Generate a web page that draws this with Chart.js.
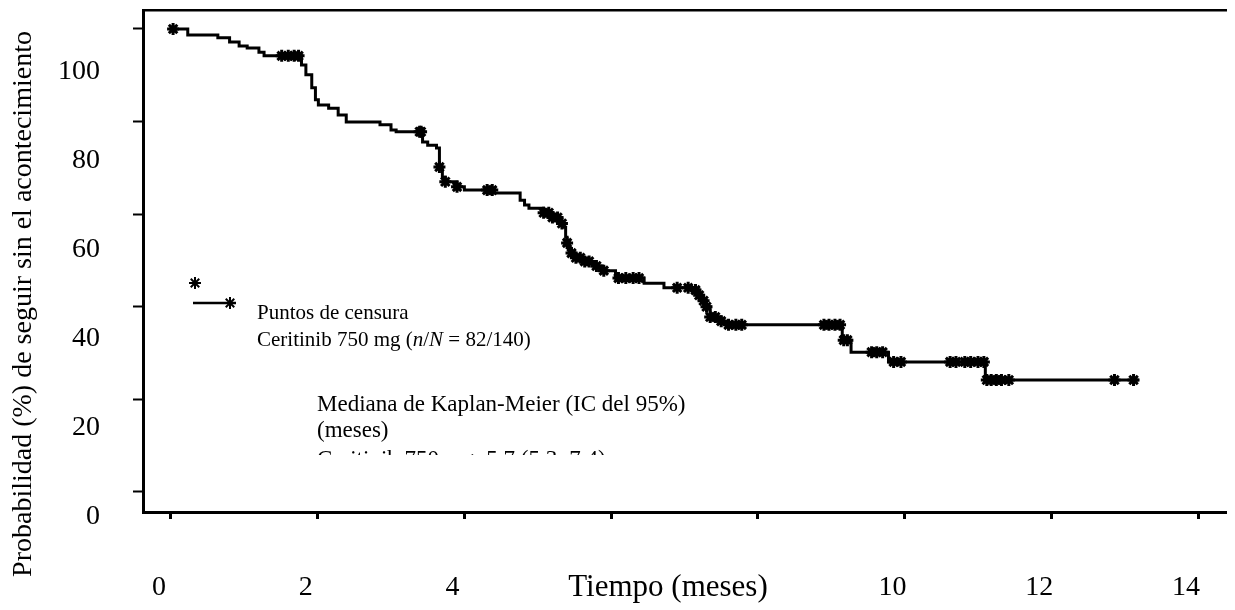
<!DOCTYPE html>
<html>
<head>
<meta charset="utf-8">
<title>Kaplan-Meier</title>
<script src="https://cdn.jsdelivr.net/npm/chart.js@4.4.1/dist/chart.umd.min.js"></script>
<style>
  html, body { margin: 0; padding: 0; background: #fff; }
  #wrap { width: 1235px; height: 610px; }
</style>
</head>
<body>
<div id="wrap"><canvas id="grafico" width="1235" height="610"></canvas></div>
<script>
// tiempos (meses) en que cambia la curva y probabilidad (%) desde ese momento
const tiemposKM = [0, 0.23, 0.64, 0.80, 0.93, 1.04, 1.20, 1.27, 1.78, 1.84, 1.92, 1.97, 2.01, 2.15, 2.28, 2.39,
    2.85, 3.00, 3.07, 3.43, 3.50, 3.62, 3.66, 3.70, 3.74, 3.90, 4.00, 4.40, 4.76, 4.82, 4.88, 5.08, 5.20, 5.30,
    5.36, 5.38, 5.40, 5.43, 5.50, 5.62, 5.75, 5.88, 6.06, 6.45, 6.72, 7.15, 7.20, 7.25, 7.30, 7.35, 7.50, 7.60,
    9.15, 9.27, 9.78, 11.10, 13.19];
const supervivenciaKM = [100, 98.7, 98.1, 97.2, 96.3, 95.9, 95.0, 94.2, 92.2, 90.1, 87.3, 84.7, 83.6, 82.9, 81.4, 79.9,
    79.3, 78.2, 77.8, 75.6, 74.9, 74.3, 70.2, 68.0, 67.0, 65.9, 65.2, 64.6, 63.0, 62.0, 61.3, 60.3, 59.3, 58.0,
    57.2, 55.0, 53.8, 51.6, 50.6, 49.8, 48.8, 47.8, 46.2, 45.1, 44.1, 43.6, 42.5, 41.3, 40.0, 37.8, 36.9, 36.1,
    32.8, 30.2, 28.1, 24.2, 24.2];

// puntos de censura (meses)
const tiemposCensura = [0.03, 1.51, 1.60, 1.68, 1.74, 3.39, 3.41, 3.66, 3.74, 3.90, 4.31, 4.38, 5.08, 5.15, 5.20,
    5.27, 5.33, 5.40, 5.46, 5.52, 5.58, 5.64, 5.70, 5.80, 5.90, 6.10, 6.20, 6.30, 6.38, 6.90, 7.05, 7.15, 7.20,
    7.26, 7.30, 7.35, 7.42, 7.50, 7.60, 7.70, 7.78, 8.90, 8.97, 9.05, 9.12, 9.17, 9.22, 9.55, 9.62, 9.70, 9.85,
    9.95, 10.62, 10.70, 10.82, 10.90, 11.00, 11.08, 11.12, 11.18, 11.25, 11.32, 11.42, 12.86, 13.12];

const marcasY = [0, 20, 40, 60, 80, 100];
const etiquetasY = ['0', '20', '40', '60', '80', '100'];
const marcasX = [0, 2, 4, 6, 8, 10, 12, 14];
const etiquetasX = ['0', '2', '4', '', '', '10', '12', '14'];

const fuente = "'Liberation Serif', 'Times New Roman', serif";

// valor de la curva en un tiempo dado (para colocar las censuras encima)
function valorEn(t) {
    let v = supervivenciaKM[0];
    for (let i = 0; i < tiemposKM.length; i++) {
        if (tiemposKM[i] <= t) v = supervivenciaKM[i];
    }
    return v;
}

const curva = tiemposKM.map((t, i) => ({ x: t, y: supervivenciaKM[i] }));
const censuras = tiemposCensura.map(t => ({ x: t, y: valorEn(t) }));

function estrella(c, x, y, r) {
    c.beginPath();
    for (let k = 0; k < 4; k++) {
        const a = k * Math.PI / 4;
        c.moveTo(x - r * Math.cos(a), y - r * Math.sin(a));
        c.lineTo(x + r * Math.cos(a), y + r * Math.sin(a));
    }
    c.stroke();
}

// textos sueltos: titulos, leyenda y mediana
const textos = {
    id: 'textos',
    afterDraw(chart) {
        const c = chart.ctx;
        c.save();
        c.fillStyle = '#000';
        c.strokeStyle = '#000';
        c.textBaseline = 'middle';

        // titulo eje Y
        c.save();
        c.translate(24, 304);
        c.rotate(-Math.PI / 2);
        c.font = '28px ' + fuente;
        c.textAlign = 'center';
        c.fillText('Probabilidad (%) de seguir sin el acontecimiento', 0, 0);
        c.restore();

        // titulo eje X
        c.font = '31px ' + fuente;
        c.textAlign = 'center';
        c.fillText('Tiempo (meses)', 668, 588);

        // leyenda
        c.lineWidth = 2;
        estrella(c, 195, 283, 6);
        c.lineWidth = 2.5;
        c.beginPath();
        c.moveTo(193, 303);
        c.lineTo(236, 303);
        c.stroke();
        c.lineWidth = 2;
        estrella(c, 230, 303, 6);

        c.textAlign = 'left';
        c.font = '21px ' + fuente;
        c.fillText('Puntos de censura', 257, 313);
        let x = 257;
        const partes = [['Ceritinib 750 mg (', false], ['n', true], ['/', false], ['N', true], [' = 82/140)', false]];
        partes.forEach(p => {
            c.font = (p[1] ? 'italic ' : '') + '21px ' + fuente;
            c.fillText(p[0], x, 340);
            x += c.measureText(p[0]).width;
        });

        // bloque de la mediana (la ultima linea sale cortada)
        c.font = '23px ' + fuente;
        c.fillText('Mediana de Kaplan-Meier (IC del 95%)', 317, 405);
        c.fillText('(meses)', 317, 431);
        c.save();
        c.beginPath();
        c.rect(300, 440, 520, 15);
        c.clip();
        c.fillText('Ceritinib 750 mg: 5,7 (5,3; 7,4)', 317, 460);
        c.restore();

        c.restore();
    }
};

const ctx = document.getElementById('grafico').getContext('2d');
new Chart(ctx, {
    type: 'line',
    data: {
        datasets: [{
            data: curva,
            stepped: true,
            borderColor: '#000',
            borderWidth: 3,
            pointRadius: 0,
            fill: false,
            xAxisID: 'x',
            yAxisID: 'y'
        }, {
            data: censuras,
            showLine: false,
            pointStyle: 'star',
            pointRadius: 6,
            pointBorderWidth: 3,
            pointBorderColor: '#000',
            pointBackgroundColor: '#000',
            xAxisID: 'x',
            yAxisID: 'y'
        }]
    },
    options: {
        responsive: false,
        animation: false,
        layout: { padding: { left: 58, top: 10, right: 0, bottom: 0 } },
        plugins: { legend: { display: false }, tooltip: { enabled: false } },
        scales: {
            x: {
                type: 'linear', position: 'bottom', min: -0.38, max: 14.38,
                afterBuildTicks: s => { s.ticks = marcasX.map(v => ({ value: v })); },
                afterFit: s => { s.height = 98; s.paddingLeft = 0; s.paddingRight = 0; },
                grid: { drawOnChartArea: false, tickLength: 7, tickWidth: 3, tickColor: '#000' },
                border: { color: '#000', width: 3 },
                ticks: {
                    color: '#000', font: { family: fuente, size: 28 }, padding: 52, labelOffset: -12,
                    maxRotation: 0, autoSkip: false,
                    callback: (v, i) => etiquetasX[i]
                }
            },
            xArriba: {
                type: 'linear', position: 'top', min: -0.38, max: 14.38,
                afterFit: s => { s.height = 0; },
                grid: { drawOnChartArea: false, drawTicks: false },
                border: { color: '#000', width: 2.5 },
                ticks: { display: false }
            },
            y: {
                type: 'linear', position: 'left', min: -4.32, max: 104.1, weight: 0,
                afterBuildTicks: s => { s.ticks = marcasY.map(v => ({ value: v })); },
                afterFit: s => { s.width = 10; s.paddingTop = 0; s.paddingBottom = 0; },
                grid: { drawOnChartArea: false, tickLength: 10, tickWidth: 2, tickColor: '#000' },
                border: { color: '#000', width: 3 },
                ticks: { display: false, autoSkip: false }
            },
            yEtiquetas: {
                type: 'linear', position: 'left', min: -0.5, max: 112.3, weight: 1,
                afterBuildTicks: s => { s.ticks = marcasY.map(v => ({ value: v })); },
                afterFit: s => { s.width = 75; s.paddingTop = 0; s.paddingBottom = 0; },
                grid: { display: false, drawTicks: false, tickLength: 0 },
                border: { display: false },
                ticks: {
                    color: '#000', font: { family: fuente, size: 28 }, padding: 33, labelOffset: 7,
                    autoSkip: false,
                    callback: (v, i) => etiquetasY[i]
                }
            }
        }
    },
    plugins: [textos]
});
</script>
</body>
</html>
